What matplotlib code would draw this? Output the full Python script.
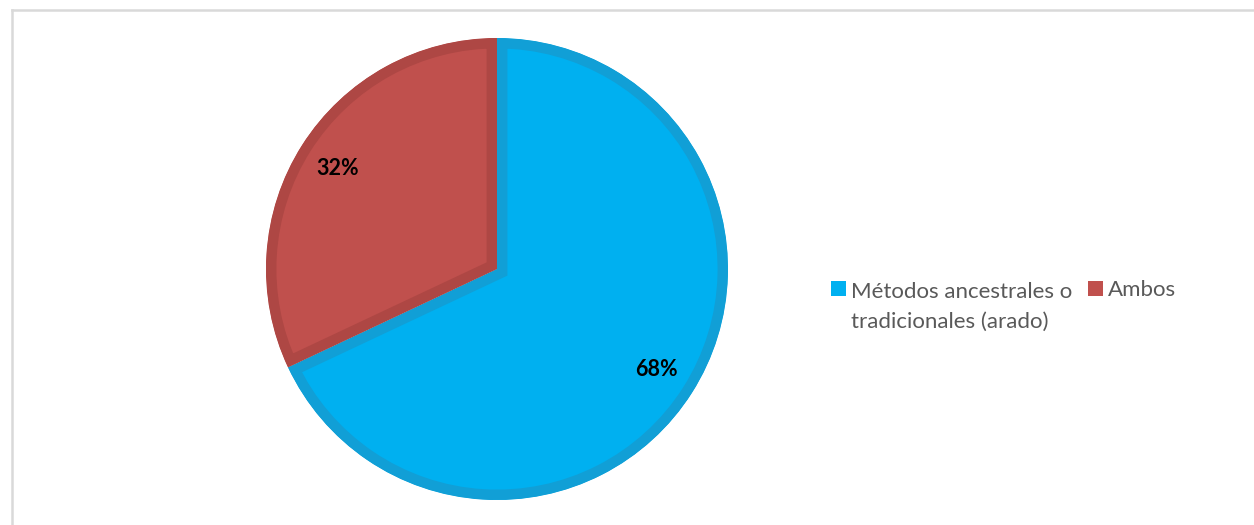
import matplotlib
matplotlib.use('Agg')
import matplotlib.pyplot as plt
from matplotlib.lines import Line2D
from matplotlib.patches import Rectangle

plt.rcParams['font.family'] = ['Lato', 'DejaVu Sans']

# data
labels = ['Métodos ancestrales o\ntradicionales (arado)', 'Ambos']
values = [68, 32]
face_colors = ['#00B0F0', '#C0504D']
edge_colors = ['#119FD6', '#AE4744']

W, H = 1254, 525
fig = plt.figure(figsize=(W/100, H/100), dpi=100)

# chart border (top and left only visible)
fig.add_artist(Line2D([11.5/W, 11.5/W], [0, 1-9.5/H], color='#d9d9d9', lw=1.8))
fig.add_artist(Line2D([11.5/W, 1], [1-9.5/H, 1-9.5/H], color='#d9d9d9', lw=1.8))

# pie axes
cx, cy, r = 497, 269, 231
ax = fig.add_axes([(cx-r)/W, (H-cy-r)/H, 2*r/W, 2*r/H])
wedges, texts, autotexts = ax.pie(values, colors=face_colors, startangle=90, counterclock=False,
                                  autopct='%1.0f%%', pctdistance=0.815,
                                  textprops=dict(fontsize=15.5, fontweight='bold', color='black'))
for w, ec in zip(wedges, edge_colors):
    w.set_edgecolor(ec)
    w.set_linewidth(15)
    w.set_clip_on(True)
    w.set_clip_path(w)
ax.set_xlim(-1, 1)
ax.set_ylim(-1, 1)
ax.axis('off')

# legend (handle and text aligned on the first line, like Excel)
leg_x = [831, 1088]
line_h = 32
for i, (lab, c) in enumerate(zip(labels, face_colors)):
    nlines = lab.count('\n') + 1
    fig.add_artist(Rectangle((leg_x[i]/W, 1-296/H), 15/W, 15/H, facecolor=c, edgecolor='none'))
    fig.text((leg_x[i]+20)/W, 1-(296+line_h*(nlines-1))/H, lab, fontsize=16, color='#595959',
             va='baseline', ha='left', linespacing=1.6)

fig.savefig('out.png', dpi=100)
